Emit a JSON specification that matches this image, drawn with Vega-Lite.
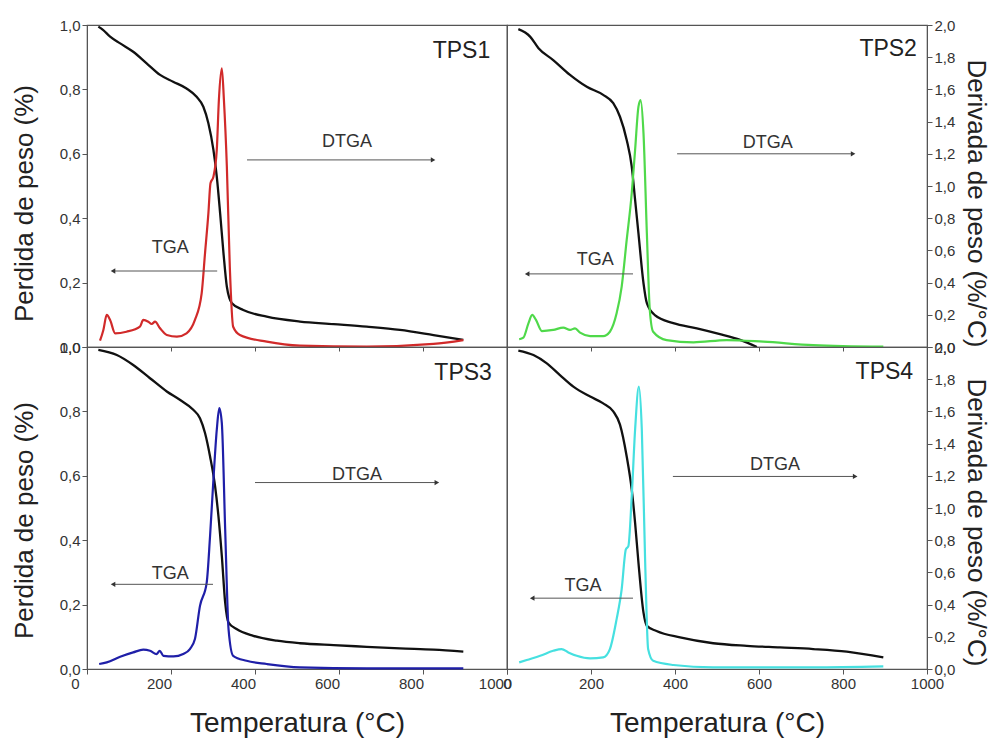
{
"$schema":"https://vega.github.io/schema/vega-lite/v6.json",
"background":"white",
"padding":{"left":10,"top":17,"right":5,"bottom":5},
"bounds":"flush",
"spacing":0,
"columns":2,
"datasets":{
"curves":[
{"p":"TPS1","s":"TGA","t":27,"v":0.995},{"p":"TPS1","s":"TGA","t":38,"v":0.985},{"p":"TPS1","s":"TGA","t":55,"v":0.964},{"p":"TPS1","s":"TGA","t":79,"v":0.943},{"p":"TPS1","s":"TGA","t":110,"v":0.917},{"p":"TPS1","s":"TGA","t":142,"v":0.881},{"p":"TPS1","s":"TGA","t":174,"v":0.845},{"p":"TPS1","s":"TGA","t":205,"v":0.824},{"p":"TPS1","s":"TGA","t":237,"v":0.803},{"p":"TPS1","s":"TGA","t":261,"v":0.777},{"p":"TPS1","s":"TGA","t":277,"v":0.746},{"p":"TPS1","s":"TGA","t":289,"v":0.695},{"p":"TPS1","s":"TGA","t":301,"v":0.612},{"p":"TPS1","s":"TGA","t":309,"v":0.529},{"p":"TPS1","s":"TGA","t":317,"v":0.415},{"p":"TPS1","s":"TGA","t":325,"v":0.291},{"p":"TPS1","s":"TGA","t":333,"v":0.187},{"p":"TPS1","s":"TGA","t":345,"v":0.136},{"p":"TPS1","s":"TGA","t":372,"v":0.115},{"p":"TPS1","s":"TGA","t":428,"v":0.094},{"p":"TPS1","s":"TGA","t":507,"v":0.079},{"p":"TPS1","s":"TGA","t":587,"v":0.071},{"p":"TPS1","s":"TGA","t":666,"v":0.063},{"p":"TPS1","s":"TGA","t":745,"v":0.053},{"p":"TPS1","s":"TGA","t":825,"v":0.037},{"p":"TPS1","s":"TGA","t":896,"v":0.022},
{"p":"TPS1","s":"DTGA","t":31,"v":0.039},{"p":"TPS1","s":"DTGA","t":39,"v":0.106},{"p":"TPS1","s":"DTGA","t":47,"v":0.199},{"p":"TPS1","s":"DTGA","t":55,"v":0.168},{"p":"TPS1","s":"DTGA","t":67,"v":0.085},{"p":"TPS1","s":"DTGA","t":94,"v":0.095},{"p":"TPS1","s":"DTGA","t":126,"v":0.126},{"p":"TPS1","s":"DTGA","t":134,"v":0.168},{"p":"TPS1","s":"DTGA","t":146,"v":0.157},{"p":"TPS1","s":"DTGA","t":154,"v":0.143},{"p":"TPS1","s":"DTGA","t":162,"v":0.157},{"p":"TPS1","s":"DTGA","t":174,"v":0.116},{"p":"TPS1","s":"DTGA","t":190,"v":0.075},{"p":"TPS1","s":"DTGA","t":214,"v":0.064},{"p":"TPS1","s":"DTGA","t":237,"v":0.085},{"p":"TPS1","s":"DTGA","t":257,"v":0.168},{"p":"TPS1","s":"DTGA","t":273,"v":0.333},{"p":"TPS1","s":"DTGA","t":281,"v":0.582},{"p":"TPS1","s":"DTGA","t":289,"v":0.83},{"p":"TPS1","s":"DTGA","t":294,"v":1.017},{"p":"TPS1","s":"DTGA","t":301,"v":1.058},{"p":"TPS1","s":"DTGA","t":309,"v":1.224},{"p":"TPS1","s":"DTGA","t":314,"v":1.534},{"p":"TPS1","s":"DTGA","t":321,"v":1.731},{"p":"TPS1","s":"DTGA","t":326,"v":1.534},{"p":"TPS1","s":"DTGA","t":333,"v":1.12},{"p":"TPS1","s":"DTGA","t":340,"v":0.499},{"p":"TPS1","s":"DTGA","t":348,"v":0.126},{"p":"TPS1","s":"DTGA","t":364,"v":0.075},{"p":"TPS1","s":"DTGA","t":428,"v":0.033},{"p":"TPS1","s":"DTGA","t":507,"v":0.008},{"p":"TPS1","s":"DTGA","t":666,"v":0.002},{"p":"TPS1","s":"DTGA","t":825,"v":0.019},{"p":"TPS1","s":"DTGA","t":896,"v":0.043},
{"p":"TPS2","s":"TGA","t":27,"v":0.987},{"p":"TPS2","s":"TGA","t":55,"v":0.964},{"p":"TPS2","s":"TGA","t":75,"v":0.928},{"p":"TPS2","s":"TGA","t":110,"v":0.891},{"p":"TPS2","s":"TGA","t":150,"v":0.845},{"p":"TPS2","s":"TGA","t":190,"v":0.808},{"p":"TPS2","s":"TGA","t":229,"v":0.783},{"p":"TPS2","s":"TGA","t":253,"v":0.757},{"p":"TPS2","s":"TGA","t":269,"v":0.715},{"p":"TPS2","s":"TGA","t":285,"v":0.643},{"p":"TPS2","s":"TGA","t":297,"v":0.56},{"p":"TPS2","s":"TGA","t":305,"v":0.457},{"p":"TPS2","s":"TGA","t":313,"v":0.353},{"p":"TPS2","s":"TGA","t":325,"v":0.198},{"p":"TPS2","s":"TGA","t":333,"v":0.136},{"p":"TPS2","s":"TGA","t":352,"v":0.099},{"p":"TPS2","s":"TGA","t":396,"v":0.074},{"p":"TPS2","s":"TGA","t":452,"v":0.058},{"p":"TPS2","s":"TGA","t":507,"v":0.04},{"p":"TPS2","s":"TGA","t":555,"v":0.022},{"p":"TPS2","s":"TGA","t":595,"v":0.0},
{"p":"TPS2","s":"DTGA","t":29,"v":0.048},{"p":"TPS2","s":"DTGA","t":39,"v":0.058},{"p":"TPS2","s":"DTGA","t":51,"v":0.147},{"p":"TPS2","s":"DTGA","t":60,"v":0.199},{"p":"TPS2","s":"DTGA","t":69,"v":0.168},{"p":"TPS2","s":"DTGA","t":83,"v":0.099},{"p":"TPS2","s":"DTGA","t":110,"v":0.106},{"p":"TPS2","s":"DTGA","t":134,"v":0.12},{"p":"TPS2","s":"DTGA","t":150,"v":0.106},{"p":"TPS2","s":"DTGA","t":162,"v":0.116},{"p":"TPS2","s":"DTGA","t":174,"v":0.089},{"p":"TPS2","s":"DTGA","t":198,"v":0.068},{"p":"TPS2","s":"DTGA","t":229,"v":0.068},{"p":"TPS2","s":"DTGA","t":245,"v":0.095},{"p":"TPS2","s":"DTGA","t":261,"v":0.209},{"p":"TPS2","s":"DTGA","t":273,"v":0.374},{"p":"TPS2","s":"DTGA","t":285,"v":0.665},{"p":"TPS2","s":"DTGA","t":297,"v":0.955},{"p":"TPS2","s":"DTGA","t":305,"v":1.224},{"p":"TPS2","s":"DTGA","t":313,"v":1.493},{"p":"TPS2","s":"DTGA","t":318,"v":1.534},{"p":"TPS2","s":"DTGA","t":325,"v":1.327},{"p":"TPS2","s":"DTGA","t":333,"v":0.706},{"p":"TPS2","s":"DTGA","t":340,"v":0.23},{"p":"TPS2","s":"DTGA","t":348,"v":0.095},{"p":"TPS2","s":"DTGA","t":380,"v":0.043},{"p":"TPS2","s":"DTGA","t":444,"v":0.029},{"p":"TPS2","s":"DTGA","t":523,"v":0.043},{"p":"TPS2","s":"DTGA","t":610,"v":0.033},{"p":"TPS2","s":"DTGA","t":729,"v":0.012},{"p":"TPS2","s":"DTGA","t":896,"v":0.002},
{"p":"TPS3","s":"TGA","t":27,"v":0.991},{"p":"TPS3","s":"TGA","t":71,"v":0.975},{"p":"TPS3","s":"TGA","t":110,"v":0.944},{"p":"TPS3","s":"TGA","t":150,"v":0.903},{"p":"TPS3","s":"TGA","t":190,"v":0.862},{"p":"TPS3","s":"TGA","t":221,"v":0.836},{"p":"TPS3","s":"TGA","t":253,"v":0.805},{"p":"TPS3","s":"TGA","t":269,"v":0.779},{"p":"TPS3","s":"TGA","t":281,"v":0.733},{"p":"TPS3","s":"TGA","t":293,"v":0.66},{"p":"TPS3","s":"TGA","t":305,"v":0.567},{"p":"TPS3","s":"TGA","t":313,"v":0.474},{"p":"TPS3","s":"TGA","t":321,"v":0.351},{"p":"TPS3","s":"TGA","t":329,"v":0.206},{"p":"TPS3","s":"TGA","t":337,"v":0.144},{"p":"TPS3","s":"TGA","t":356,"v":0.124},{"p":"TPS3","s":"TGA","t":396,"v":0.103},{"p":"TPS3","s":"TGA","t":452,"v":0.088},{"p":"TPS3","s":"TGA","t":507,"v":0.08},{"p":"TPS3","s":"TGA","t":587,"v":0.074},{"p":"TPS3","s":"TGA","t":666,"v":0.069},{"p":"TPS3","s":"TGA","t":745,"v":0.064},{"p":"TPS3","s":"TGA","t":825,"v":0.06},{"p":"TPS3","s":"TGA","t":896,"v":0.054},
{"p":"TPS3","s":"DTGA","t":29,"v":0.031},{"p":"TPS3","s":"DTGA","t":47,"v":0.041},{"p":"TPS3","s":"DTGA","t":79,"v":0.076},{"p":"TPS3","s":"DTGA","t":110,"v":0.103},{"p":"TPS3","s":"DTGA","t":134,"v":0.12},{"p":"TPS3","s":"DTGA","t":150,"v":0.113},{"p":"TPS3","s":"DTGA","t":166,"v":0.093},{"p":"TPS3","s":"DTGA","t":173,"v":0.113},{"p":"TPS3","s":"DTGA","t":182,"v":0.082},{"p":"TPS3","s":"DTGA","t":206,"v":0.078},{"p":"TPS3","s":"DTGA","t":229,"v":0.093},{"p":"TPS3","s":"DTGA","t":245,"v":0.124},{"p":"TPS3","s":"DTGA","t":257,"v":0.186},{"p":"TPS3","s":"DTGA","t":269,"v":0.392},{"p":"TPS3","s":"DTGA","t":285,"v":0.537},{"p":"TPS3","s":"DTGA","t":293,"v":0.826},{"p":"TPS3","s":"DTGA","t":301,"v":1.176},{"p":"TPS3","s":"DTGA","t":309,"v":1.486},{"p":"TPS3","s":"DTGA","t":315,"v":1.62},{"p":"TPS3","s":"DTGA","t":321,"v":1.527},{"p":"TPS3","s":"DTGA","t":329,"v":0.867},{"p":"TPS3","s":"DTGA","t":337,"v":0.248},{"p":"TPS3","s":"DTGA","t":348,"v":0.082},{"p":"TPS3","s":"DTGA","t":380,"v":0.051},{"p":"TPS3","s":"DTGA","t":428,"v":0.031},{"p":"TPS3","s":"DTGA","t":507,"v":0.01},{"p":"TPS3","s":"DTGA","t":666,"v":0.004},{"p":"TPS3","s":"DTGA","t":896,"v":0.004},
{"p":"TPS4","s":"TGA","t":27,"v":0.989},{"p":"TPS4","s":"TGA","t":63,"v":0.975},{"p":"TPS4","s":"TGA","t":94,"v":0.95},{"p":"TPS4","s":"TGA","t":126,"v":0.913},{"p":"TPS4","s":"TGA","t":158,"v":0.877},{"p":"TPS4","s":"TGA","t":198,"v":0.846},{"p":"TPS4","s":"TGA","t":229,"v":0.825},{"p":"TPS4","s":"TGA","t":253,"v":0.8},{"p":"TPS4","s":"TGA","t":269,"v":0.759},{"p":"TPS4","s":"TGA","t":285,"v":0.66},{"p":"TPS4","s":"TGA","t":297,"v":0.557},{"p":"TPS4","s":"TGA","t":305,"v":0.454},{"p":"TPS4","s":"TGA","t":313,"v":0.33},{"p":"TPS4","s":"TGA","t":325,"v":0.175},{"p":"TPS4","s":"TGA","t":333,"v":0.134},{"p":"TPS4","s":"TGA","t":356,"v":0.118},{"p":"TPS4","s":"TGA","t":412,"v":0.098},{"p":"TPS4","s":"TGA","t":491,"v":0.08},{"p":"TPS4","s":"TGA","t":571,"v":0.072},{"p":"TPS4","s":"TGA","t":650,"v":0.067},{"p":"TPS4","s":"TGA","t":729,"v":0.062},{"p":"TPS4","s":"TGA","t":809,"v":0.054},{"p":"TPS4","s":"TGA","t":896,"v":0.036},
{"p":"TPS4","s":"DTGA","t":29,"v":0.041},{"p":"TPS4","s":"DTGA","t":47,"v":0.056},{"p":"TPS4","s":"DTGA","t":79,"v":0.082},{"p":"TPS4","s":"DTGA","t":110,"v":0.113},{"p":"TPS4","s":"DTGA","t":130,"v":0.124},{"p":"TPS4","s":"DTGA","t":146,"v":0.103},{"p":"TPS4","s":"DTGA","t":166,"v":0.082},{"p":"TPS4","s":"DTGA","t":198,"v":0.066},{"p":"TPS4","s":"DTGA","t":229,"v":0.072},{"p":"TPS4","s":"DTGA","t":245,"v":0.124},{"p":"TPS4","s":"DTGA","t":261,"v":0.31},{"p":"TPS4","s":"DTGA","t":273,"v":0.495},{"p":"TPS4","s":"DTGA","t":283,"v":0.743},{"p":"TPS4","s":"DTGA","t":289,"v":0.763},{"p":"TPS4","s":"DTGA","t":297,"v":1.073},{"p":"TPS4","s":"DTGA","t":305,"v":1.486},{"p":"TPS4","s":"DTGA","t":314,"v":1.754},{"p":"TPS4","s":"DTGA","t":321,"v":1.486},{"p":"TPS4","s":"DTGA","t":329,"v":0.66},{"p":"TPS4","s":"DTGA","t":336,"v":0.124},{"p":"TPS4","s":"DTGA","t":348,"v":0.051},{"p":"TPS4","s":"DTGA","t":396,"v":0.025},{"p":"TPS4","s":"DTGA","t":491,"v":0.01},{"p":"TPS4","s":"DTGA","t":729,"v":0.01},{"p":"TPS4","s":"DTGA","t":896,"v":0.016}
],
"notes":[
{"p":"TPS1","label":"DTGA","x":619,"y":0.637},{"p":"TPS1","label":"TGA","x":198,"y":0.307},
{"p":"TPS2","label":"DTGA","x":621,"y":0.634},{"p":"TPS2","label":"TGA","x":210,"y":0.27},
{"p":"TPS3","label":"DTGA","x":643,"y":0.604},{"p":"TPS3","label":"TGA","x":198,"y":0.294},
{"p":"TPS4","label":"DTGA","x":638,"y":0.632},{"p":"TPS4","label":"TGA","x":181,"y":0.257}
],
"arrows":[
{"p":"TPS1","x1":381,"x2":824,"y":0.581,"dir":"right"},{"p":"TPS1","x1":310,"x2":62,"y":0.236,"dir":"left"},
{"p":"TPS2","x1":405,"x2":824,"y":0.6,"dir":"right"},{"p":"TPS2","x1":300,"x2":48,"y":0.227,"dir":"left"},
{"p":"TPS3","x1":400,"x2":833,"y":0.579,"dir":"right"},{"p":"TPS3","x1":300,"x2":62,"y":0.263,"dir":"left"},
{"p":"TPS4","x1":395,"x2":829,"y":0.598,"dir":"right"},{"p":"TPS4","x1":300,"x2":60,"y":0.22,"dir":"left"}
],
"tags":[
{"p":"TPS1","label":"TPS1","x":960,"y":0.898},
{"p":"TPS2","label":"TPS2","x":976,"y":0.905},
{"p":"TPS3","label":"TPS3","x":964,"y":0.897},
{"p":"TPS4","label":"TPS4","x":967,"y":0.9}
]
},
"concat":[
{"width":420,"height":322,"resolve":{"scale":{"y":"independent"}},"layer":[
{"data":{"name":"curves"},"transform":[{"filter":"datum.p==='TPS1' && datum.s==='TGA'"}],"mark":{"type":"line","color":"#111111","strokeWidth":2.3,"interpolate":"monotone"},
"encoding":{"x":{"field":"t","type":"quantitative","scale":{"domain":[0,1000],"nice":false},"axis":{"title":null,"labels":false,"values":[200,400,600,800],"tickSize":4}},
"y":{"field":"v","type":"quantitative","scale":{"domain":[0,1],"nice":false},"axis":{"title":"Perdida de peso (%)","titleFontSize":26,"values":[0,0.2,0.4,0.6,0.8,1],"labelExpr":"replace(format(datum.value,'.1f'),'.',',')","titleY":178,"titlePadding":22}}}},
{"data":{"name":"curves"},"transform":[{"filter":"datum.p==='TPS1' && datum.s==='DTGA'"}],"mark":{"type":"line","color":"#d12a2a","strokeWidth":2.2,"interpolate":"monotone"},
"encoding":{"x":{"field":"t","type":"quantitative"},"y":{"field":"v","type":"quantitative","scale":{"domain":[0,2],"nice":false},"axis":null}}},
{"data":{"name":"arrows"},"transform":[{"filter":"datum.p==='TPS1'"}],"mark":{"type":"rule","color":"#555555","strokeWidth":1},
"encoding":{"x":{"field":"x1","type":"quantitative"},"x2":{"field":"x2"},"y":{"field":"y","type":"quantitative","scale":{"domain":[0,1],"nice":false},"axis":null}}},
{"data":{"name":"arrows"},"transform":[{"filter":"datum.p==='TPS1'"}],"mark":{"type":"point","filled":true,"color":"#333333","size":28,"opacity":1},
"encoding":{"x":{"field":"x2","type":"quantitative"},"y":{"field":"y","type":"quantitative","scale":{"domain":[0,1],"nice":false},"axis":null},"shape":{"field":"dir","type":"nominal","scale":{"domain":["right","left"],"range":["triangle-right","triangle-left"]},"legend":null}}},
{"data":{"name":"notes"},"transform":[{"filter":"datum.p==='TPS1'"}],"mark":{"type":"text","fontSize":18,"color":"#333333","baseline":"middle"},
"encoding":{"x":{"field":"x","type":"quantitative"},"y":{"field":"y","type":"quantitative","scale":{"domain":[0,1],"nice":false},"axis":null},"text":{"field":"label"}}},
{"data":{"name":"tags"},"transform":[{"filter":"datum.p==='TPS1'"}],"mark":{"type":"text","fontSize":23,"color":"#222222","align":"right","baseline":"alphabetic"},
"encoding":{"x":{"field":"x","type":"quantitative"},"y":{"field":"y","type":"quantitative","scale":{"domain":[0,1],"nice":false},"axis":null},"text":{"field":"label"}}}
]},
{"width":420,"height":322,"resolve":{"scale":{"y":"independent"}},"layer":[
{"data":{"name":"curves"},"transform":[{"filter":"datum.p==='TPS2' && datum.s==='TGA'"}],"mark":{"type":"line","color":"#111111","strokeWidth":2.3,"interpolate":"monotone"},
"encoding":{"x":{"field":"t","type":"quantitative","scale":{"domain":[0,1000],"nice":false},"axis":{"title":null,"labels":false,"values":[200,400,600,800],"tickSize":4}},
"y":{"field":"v","type":"quantitative","scale":{"domain":[0,1],"nice":false},"axis":null}}},
{"data":{"name":"curves"},"transform":[{"filter":"datum.p==='TPS2' && datum.s==='DTGA'"}],"mark":{"type":"line","color":"#4fd94a","strokeWidth":2.2,"interpolate":"monotone"},
"encoding":{"x":{"field":"t","type":"quantitative"},"y":{"field":"v","type":"quantitative","scale":{"domain":[0,2],"nice":false},"axis":{"orient":"right","title":"Derivada de peso (%/°C)","titleFontSize":26,"values":[0,0.2,0.4,0.6,0.8,1,1.2,1.4,1.6,1.8,2],"labelExpr":"replace(format(datum.value,'.1f'),'.',',')","titleY":178,"titlePadding":8}}}},
{"data":{"name":"arrows"},"transform":[{"filter":"datum.p==='TPS2'"}],"mark":{"type":"rule","color":"#555555","strokeWidth":1},
"encoding":{"x":{"field":"x1","type":"quantitative"},"x2":{"field":"x2"},"y":{"field":"y","type":"quantitative","scale":{"domain":[0,1],"nice":false},"axis":null}}},
{"data":{"name":"arrows"},"transform":[{"filter":"datum.p==='TPS2'"}],"mark":{"type":"point","filled":true,"color":"#333333","size":28,"opacity":1},
"encoding":{"x":{"field":"x2","type":"quantitative"},"y":{"field":"y","type":"quantitative","scale":{"domain":[0,1],"nice":false},"axis":null},"shape":{"field":"dir","type":"nominal","scale":{"domain":["right","left"],"range":["triangle-right","triangle-left"]},"legend":null}}},
{"data":{"name":"notes"},"transform":[{"filter":"datum.p==='TPS2'"}],"mark":{"type":"text","fontSize":18,"color":"#333333","baseline":"middle"},
"encoding":{"x":{"field":"x","type":"quantitative"},"y":{"field":"y","type":"quantitative","scale":{"domain":[0,1],"nice":false},"axis":null},"text":{"field":"label"}}},
{"data":{"name":"tags"},"transform":[{"filter":"datum.p==='TPS2'"}],"mark":{"type":"text","fontSize":23,"color":"#222222","align":"right","baseline":"alphabetic"},
"encoding":{"x":{"field":"x","type":"quantitative"},"y":{"field":"y","type":"quantitative","scale":{"domain":[0,1],"nice":false},"axis":null},"text":{"field":"label"}}}
]},
{"width":420,"height":322,"resolve":{"scale":{"y":"independent"}},"layer":[
{"data":{"name":"curves"},"transform":[{"filter":"datum.p==='TPS3' && datum.s==='TGA'"}],"mark":{"type":"line","color":"#111111","strokeWidth":2.3,"interpolate":"monotone"},
"encoding":{"x":{"field":"t","type":"quantitative","scale":{"domain":[0,1000],"nice":false},"axis":{"title":"Temperatura (°C)","titleFontSize":28,"values":[0,200,400,600,800,1000],"format":"d","labelPadding":2,"labelOffset":-12,"titlePadding":18}},
"y":{"field":"v","type":"quantitative","scale":{"domain":[0,1],"nice":false},"axis":{"title":"Perdida de peso (%)","titleFontSize":26,"values":[0,0.2,0.4,0.6,0.8,1],"labelExpr":"replace(format(datum.value,'.1f'),'.',',')","titleY":173,"titlePadding":22}}}},
{"data":{"name":"curves"},"transform":[{"filter":"datum.p==='TPS3' && datum.s==='DTGA'"}],"mark":{"type":"line","color":"#1f1fa8","strokeWidth":2.2,"interpolate":"monotone"},
"encoding":{"x":{"field":"t","type":"quantitative"},"y":{"field":"v","type":"quantitative","scale":{"domain":[0,2],"nice":false},"axis":null}}},
{"data":{"name":"arrows"},"transform":[{"filter":"datum.p==='TPS3'"}],"mark":{"type":"rule","color":"#555555","strokeWidth":1},
"encoding":{"x":{"field":"x1","type":"quantitative"},"x2":{"field":"x2"},"y":{"field":"y","type":"quantitative","scale":{"domain":[0,1],"nice":false},"axis":null}}},
{"data":{"name":"arrows"},"transform":[{"filter":"datum.p==='TPS3'"}],"mark":{"type":"point","filled":true,"color":"#333333","size":28,"opacity":1},
"encoding":{"x":{"field":"x2","type":"quantitative"},"y":{"field":"y","type":"quantitative","scale":{"domain":[0,1],"nice":false},"axis":null},"shape":{"field":"dir","type":"nominal","scale":{"domain":["right","left"],"range":["triangle-right","triangle-left"]},"legend":null}}},
{"data":{"name":"notes"},"transform":[{"filter":"datum.p==='TPS3'"}],"mark":{"type":"text","fontSize":18,"color":"#333333","baseline":"middle"},
"encoding":{"x":{"field":"x","type":"quantitative"},"y":{"field":"y","type":"quantitative","scale":{"domain":[0,1],"nice":false},"axis":null},"text":{"field":"label"}}},
{"data":{"name":"tags"},"transform":[{"filter":"datum.p==='TPS3'"}],"mark":{"type":"text","fontSize":23,"color":"#222222","align":"right","baseline":"alphabetic"},
"encoding":{"x":{"field":"x","type":"quantitative"},"y":{"field":"y","type":"quantitative","scale":{"domain":[0,1],"nice":false},"axis":null},"text":{"field":"label"}}}
]},
{"width":420,"height":322,"resolve":{"scale":{"y":"independent"}},"layer":[
{"data":{"name":"curves"},"transform":[{"filter":"datum.p==='TPS4' && datum.s==='TGA'"}],"mark":{"type":"line","color":"#111111","strokeWidth":2.3,"interpolate":"monotone"},
"encoding":{"x":{"field":"t","type":"quantitative","scale":{"domain":[0,1000],"nice":false},"axis":{"title":"Temperatura (°C)","titleFontSize":28,"values":[0,200,400,600,800,1000],"format":"d","labelPadding":2,"titlePadding":18}},
"y":{"field":"v","type":"quantitative","scale":{"domain":[0,1],"nice":false},"axis":null}}},
{"data":{"name":"curves"},"transform":[{"filter":"datum.p==='TPS4' && datum.s==='DTGA'"}],"mark":{"type":"line","color":"#46e0e0","strokeWidth":2.2,"interpolate":"monotone"},
"encoding":{"x":{"field":"t","type":"quantitative"},"y":{"field":"v","type":"quantitative","scale":{"domain":[0,2],"nice":false},"axis":{"orient":"right","title":"Derivada de peso (%/°C)","titleFontSize":26,"values":[0,0.2,0.4,0.6,0.8,1,1.2,1.4,1.6,1.8,2],"labelExpr":"replace(format(datum.value,'.1f'),'.',',')","titleY":175,"titlePadding":8}}}},
{"data":{"name":"arrows"},"transform":[{"filter":"datum.p==='TPS4'"}],"mark":{"type":"rule","color":"#555555","strokeWidth":1},
"encoding":{"x":{"field":"x1","type":"quantitative"},"x2":{"field":"x2"},"y":{"field":"y","type":"quantitative","scale":{"domain":[0,1],"nice":false},"axis":null}}},
{"data":{"name":"arrows"},"transform":[{"filter":"datum.p==='TPS4'"}],"mark":{"type":"point","filled":true,"color":"#333333","size":28,"opacity":1},
"encoding":{"x":{"field":"x2","type":"quantitative"},"y":{"field":"y","type":"quantitative","scale":{"domain":[0,1],"nice":false},"axis":null},"shape":{"field":"dir","type":"nominal","scale":{"domain":["right","left"],"range":["triangle-right","triangle-left"]},"legend":null}}},
{"data":{"name":"notes"},"transform":[{"filter":"datum.p==='TPS4'"}],"mark":{"type":"text","fontSize":18,"color":"#333333","baseline":"middle"},
"encoding":{"x":{"field":"x","type":"quantitative"},"y":{"field":"y","type":"quantitative","scale":{"domain":[0,1],"nice":false},"axis":null},"text":{"field":"label"}}},
{"data":{"name":"tags"},"transform":[{"filter":"datum.p==='TPS4'"}],"mark":{"type":"text","fontSize":23,"color":"#222222","align":"right","baseline":"alphabetic"},
"encoding":{"x":{"field":"x","type":"quantitative"},"y":{"field":"y","type":"quantitative","scale":{"domain":[0,1],"nice":false},"axis":null},"text":{"field":"label"}}}
]}
],
"config":{"font":"Liberation Sans","view":{"stroke":"#555555","strokeWidth":1.2},
"axis":{"grid":false,"domainColor":"#555555","tickColor":"#555555","labelColor":"#333333","labelFontSize":15,"titleFontWeight":"normal","titleColor":"#222222","labelFlush":false,"labelOverlap":false,"tickSize":5}}
}
